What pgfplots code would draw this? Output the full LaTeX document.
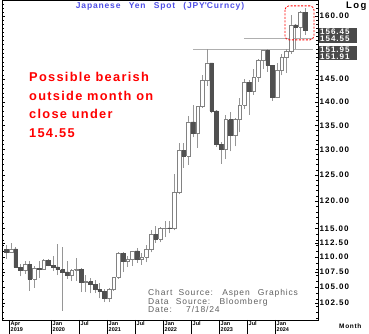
\documentclass[border=0pt]{standalone}
\usepackage{pgfplots}
\pgfplotsset{compat=1.18}
\usepackage{pgfplotstable}
\usepackage{fontspec}
\setmainfont{Liberation Sans}
\newfontfamily\lsten[LetterSpace=10]{Liberation Sans}
\newfontfamily\lstw[LetterSpace=12]{Liberation Sans}
\newfontfamily\lsfif[LetterSpace=15]{Liberation Sans}
\definecolor{titleblue}{RGB}{80,80,230}
\definecolor{srcgray}{RGB}{96,96,96}
\definecolor{boxgray}{RGB}{74,74,74}
\definecolor{darkbody}{RGB}{80,80,80}
\definecolor{wickgray}{RGB}{150,150,150}
\definecolor{upedge}{RGB}{130,130,130}
\definecolor{hlinegray}{RGB}{175,175,175}

\pgfplotstableread{
i o h l c
-1 111.38 112.14 109.70 110.86
0 110.86 112.40 110.84 111.42
1 111.42 111.69 108.28 108.29
2 108.29 108.80 106.78 107.87
3 107.87 109.32 107.21 108.75
4 108.75 109.32 104.46 106.28
5 106.28 108.48 104.88 108.08
6 108.08 109.29 106.48 108.03
7 108.03 109.73 107.89 109.50
8 109.50 109.73 108.43 108.61
9 108.61 110.29 107.65 108.35
10 108.35 112.23 107.00 107.89
11 107.89 111.71 101.19 107.54
12 107.54 109.38 106.36 106.91
13 106.91 108.08 105.99 107.83
14 107.83 109.85 106.07 107.93
15 107.93 108.16 104.19 105.83
16 105.83 107.05 104.19 105.91
17 105.91 106.55 104.00 105.48
18 105.48 106.11 104.03 104.66
19 104.66 105.68 103.18 104.30
20 104.30 104.75 102.59 103.25
21 103.25 104.94 102.59 104.68
22 104.68 106.69 104.41 106.61
23 106.61 110.97 106.37 110.72
24 110.72 110.96 107.48 109.31
25 109.31 110.20 108.34 109.58
26 109.58 111.11 108.57 111.10
27 111.10 111.66 109.07 109.71
28 109.71 110.80 108.72 110.00
29 110.00 112.07 109.11 111.29
30 111.29 114.70 110.82 113.95
31 113.95 115.52 112.53 113.17
32 113.17 115.20 112.55 115.08
33 115.08 116.35 113.47 115.13
34 115.13 116.34 114.15 114.98
35 114.98 125.10 114.66 121.70
36 121.70 131.25 121.28 129.84
37 129.84 131.35 126.36 128.67
38 128.67 137.00 126.94 135.72
39 135.72 139.39 132.50 133.27
40 133.27 139.08 130.40 138.96
41 138.96 145.90 138.76 144.74
42 144.74 151.95 143.53 148.71
43 148.71 148.82 137.50 138.07
44 138.07 138.18 130.56 131.12
45 131.12 131.58 127.22 130.09
46 130.09 137.10 128.08 136.17
47 136.17 137.91 129.64 132.83
48 132.83 136.56 130.63 136.30
49 136.30 140.93 133.50 139.34
50 139.34 145.07 138.43 144.31
51 144.31 144.91 137.24 142.29
52 142.29 147.37 141.51 145.54
53 145.54 149.71 144.44 149.37
54 149.37 151.72 147.31 151.68
55 151.68 151.91 146.67 148.20
56 148.20 148.32 140.25 141.04
57 141.04 148.80 140.81 147.00
58 147.00 150.89 145.90 149.98
59 149.98 151.97 146.48 151.35
60 151.35 160.20 150.81 157.80
61 157.80 157.99 151.86 157.31
62 157.31 161.27 154.55 160.88
63 160.88 161.95 155.37 156.45
}\candles
\pgfplotstablegetrowsof{\candles}
\pgfmathtruncatemacro\lastrow{\pgfplotsretval-1}

\begin{document}
\begin{tikzpicture}[x=1pt,y=1pt]
\path[use as bounding box] (0,0) rectangle (369,334);
\begin{axis}[
  at={(2pt,14pt)}, anchor=south west,
  scale only axis, width=316pt, height=320pt,
  xmin=-1.93, xmax=65.78,
  ymode=log, ymin=99.79, ymax=164,
  clip=false,
  axis line style={black, line width=0.6pt},
  ytick={102.5,105,107.5,110,112.5,115,120,125,130,135,140,145,160},
  yticklabels={102.50,105.00,107.50,110.00,112.50,115.00,120.00,125.00,130.00,135.00,140.00,145.00,160.00},
  minor ytick={100,101,...,164},
  yticklabel pos=right,
  yticklabel style={font=\lstw\bfseries\fontsize{8}{8}\selectfont, inner sep=1.5pt},
  tick style={black, line width=0.4pt},
  major tick length=3pt, minor tick length=2pt,
  xtick={0,9,15,21,27,33,39,45,51,57},
  xticklabels={{Apr\\2019},{Jan\\2020},Jul,{Jan\\2021},Jul,{Jan\\2022},Jul,{Jan\\2023},Jul,{Jan\\2024}},
  xtick style={draw=none},
  xticklabel style={anchor=north west, align=left, inner sep=0pt, xshift=-0.5pt, yshift=-1.6pt,
    font=\bfseries\fontsize{5.5}{5.6}\selectfont},
  wick/.style={wickgray, line width=0.6pt, mark=none},
  upbody/.style={draw=upedge, fill=white, line width=0.5pt, mark=none},
  downbody/.style={draw=darkbody, fill=darkbody, line width=0.5pt, mark=none},
]
\addplot[hlinegray, line width=0.8pt, mark=none] coordinates {(39.0,151.95) (64.7,151.95)};
\addplot[hlinegray, line width=0.8pt, mark=none] coordinates {(49.9,154.55) (64.7,154.55)};
\pgfplotsforeachungrouped \r in {0,...,\lastrow}{%
  \pgfplotstablegetelem{\r}{i}\of\candles \let\ci\pgfplotsretval
  \pgfplotstablegetelem{\r}{o}\of\candles \let\co\pgfplotsretval
  \pgfplotstablegetelem{\r}{h}\of\candles \let\ch\pgfplotsretval
  \pgfplotstablegetelem{\r}{l}\of\candles \let\cl\pgfplotsretval
  \pgfplotstablegetelem{\r}{c}\of\candles \let\cc\pgfplotsretval
  \pgfmathsetmacro\xa{\ci-0.38}%
  \pgfmathsetmacro\xb{\ci+0.38}%
  \pgfmathparse{\cc<\co ? 1 : 0}%
  \ifdim\pgfmathresult pt>0.5pt \def\bstyle{downbody}\else\def\bstyle{upbody}\fi
  \edef\tmp{\noexpand\addplot[wick] coordinates {(\ci,\cl) (\ci,\ch)};
    \noexpand\addplot[\bstyle] coordinates {(\xa,\co) (\xb,\co) (\xb,\cc) (\xa,\cc) (\xa,\co)};}%
  \tmp
}
\draw[red, dashed, dash pattern=on 2pt off 1.5pt, rounded corners=4pt, line width=0.8pt]
  (axis cs:58.7,162.5) rectangle (axis cs:64.9,154.15);
\pgfplotsinvokeforeach{-0.4,8.6,14.6,20.6,26.6,32.6,38.6,44.6,50.6,56.6}{
  \draw[black, line width=0.4pt] (axis cs:#1,99.79) -- ++(0pt,-14pt);
}
\end{axis}
% title
\node[text=titleblue, font=\lsten\bfseries\fontsize{8.5}{9}\selectfont, anchor=base] at (160,325)
  {Japanese\hspace{5pt} Yen\hspace{5pt} Spot\hspace{5pt} (JPY\textquotesingle Curncy)};
% Log / Month
\node[font=\lsfif\bfseries\fontsize{9.5}{10}\selectfont, anchor=base west, inner sep=0] at (346,325) {Log};
\node[font=\lsten\bfseries\fontsize{6.5}{7}\selectfont, anchor=base west, inner sep=0] at (339,5) {Month};
% boxed level labels
\foreach \t/\lab in {32/156.45, 39/154.55, 49.5/151.95, 56.5/151.91}{
  \node[fill=boxgray, text=white, font=\lstw\bfseries\fontsize{8}{8}\selectfont,
    minimum height=7pt, minimum width=38pt, text width=36pt, align=left, inner sep=1pt, anchor=west]
    at (319,334-\t) {\lab};
}
% red annotation
\begin{scope}[every node/.style={text=red, font=\lsten\bfseries\fontsize{12.8}{13}\selectfont, anchor=base west, inner sep=0}]
\node at (29,334-82) {Possible bearish};
\node at (29,334-100.5) {outside month on};
\node at (29,334-119) {close under};
\node at (29,334-137.5) {154.55};
\end{scope}
% source text
\begin{scope}[every node/.style={text=srcgray, font=\lsten\fontsize{8.5}{9}\selectfont, anchor=base west, inner sep=0}]
\node at (148,334-296) {Chart\hspace{3pt} Source:\hspace{5pt} Aspen\hspace{5pt} Graphics};
\node at (148,334-304.5) {Data\hspace{4pt} Source:\hspace{5pt} Bloomberg};
\node at (148,334-313) {Date:\hspace{10pt} 7/18/24};
\end{scope}
\end{tikzpicture}
\end{document}
